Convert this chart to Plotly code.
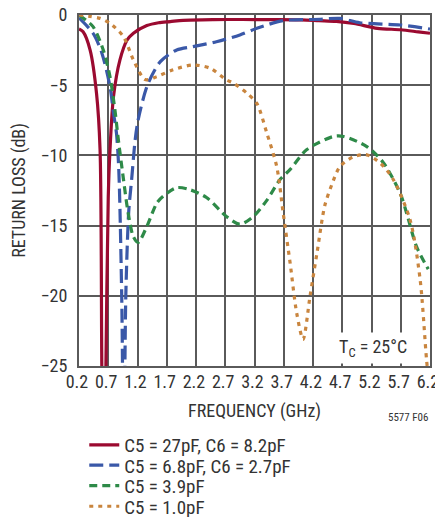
import plotly.graph_objects as go

# Frequency (GHz) / return loss (dB)
red_x = [0.2, 0.27, 0.39, 0.5, 0.56, 0.59, 0.625, 0.66, 0.7, 0.73, 0.79, 0.9, 1.02, 1.13, 1.36, 1.56, 1.76, 1.98,
         2.5, 3.0, 3.5, 4.0, 4.3, 4.6, 4.9, 5.3, 5.7, 6.0, 6.2]
red_y = [-1.0, -1.2, -2.5, -5.6, -9.6, -25, -38, -25, -13, -9.6, -5.8, -3.2, -1.8, -1.3, -0.75, -0.55, -0.47, -0.38,
         -0.33, -0.32, -0.33, -0.35, -0.4, -0.45, -0.6, -0.95, -1.05, -1.2, -1.3]

blue_x = [0.2, 0.44, 0.59, 0.73, 0.79, 0.84, 0.88, 0.93, 0.965, 1.0, 1.05, 1.1, 1.16, 1.21, 1.37, 1.59, 1.87, 2.15,
          2.55, 2.95, 3.24, 3.69, 4.32, 4.66, 5.0, 5.69, 6.2]
blue_y = [-0.2, -1.3, -2.7, -5.1, -7.0, -8.4, -11.0, -20, -32, -20, -14, -11.7, -8.9, -7.5, -5.0, -3.32, -2.49, -2.25,
          -1.9, -1.42, -0.95, -0.4, -0.31, -0.24, -0.55, -0.71, -1.0]

green_x = [0.2, 0.44, 0.615, 0.73, 0.815, 0.87, 0.96, 1.04, 1.13, 1.21, 1.36, 1.53, 1.64, 1.87, 2.1, 2.38, 2.72, 2.95,
           3.18, 3.41, 3.64, 3.81, 4.09, 4.55, 4.72, 5.12, 5.4, 5.69, 5.8, 5.97, 6.17]
green_y = [0.0, -0.83, -2.5, -4.4, -6.8, -8.8, -11.7, -14.1, -15.8, -16.2, -15.06, -13.4, -12.9, -12.3, -12.45, -13.0,
           -14.35, -14.9, -14.35, -13.2, -11.7, -11.0, -9.6, -8.65, -8.65, -9.37, -10.5, -12.7, -14.1, -16.5, -18.1]

orange_x = [0.2, 0.39, 0.56, 0.73, 0.96, 1.13, 1.33, 1.53, 1.81, 2.15, 2.44, 2.72, 2.84, 3.07, 3.24, 3.41, 3.58, 3.69,
            3.81, 3.92, 4.03, 4.15, 4.27, 4.4, 4.52, 4.66, 4.89, 5.12, 5.35, 5.57, 5.86, 6.03, 6.14, 6.2]
orange_y = [0.0, -0.1, -0.24, -0.6, -1.54, -3.2, -4.6, -4.39, -3.9, -3.56, -3.79, -4.62, -4.86, -5.57, -6.3, -8.4,
            -10.8, -14.1, -17.7, -21.2, -23.1, -20.0, -16.9, -13.6, -12.1, -10.8, -10.1, -9.96, -10.55, -11.7, -14.6,
            -18.8, -24.5, -27.0]

series_names = ["C5 = 27pF, C6 = 8.2pF", "C5 = 6.8pF, C6 = 2.7pF", "C5 = 3.9pF", "C5 = 1.0pF"]
x_ticks = [0.2, 0.7, 1.2, 1.7, 2.2, 2.7, 3.2, 3.7, 4.2, 4.7, 5.2, 5.7, 6.2]
y_ticks = [0, -5, -10, -15, -20, -25]

FONT = "Liberation Sans Narrow, Roboto Condensed, Arial Narrow, Liberation Sans, sans-serif"
TXT = "#333333"
GRID = "#5a5a5a"

fig = go.Figure()
styles = [
    ("#9b0a30", "solid"),
    ("#3a58a8", "14px,6px"),
    ("#2e8a48", "8px,5px"),
    ("#c9853e", "4px,5px"),
]
legend_ids = ["legend", "legend2", "legend3", "legend4"]
for (xs, ys), name, (col, dash), lid in zip(
        [(red_x, red_y), (blue_x, blue_y), (green_x, green_y), (orange_x, orange_y)], series_names, styles,
        legend_ids):
    fig.add_trace(go.Scatter(x=xs, y=ys, mode="lines", name=name, legend=lid,
                             line=dict(color=col, width=3.2, dash=dash, shape="spline", smoothing=0.8)))

leg_common = dict(x=0.015, xanchor="left", yanchor="middle", bgcolor="rgba(0,0,0,0)",
                  font=dict(size=19, color=TXT), itemwidth=30)
fig.update_layout(
    width=435, height=509,
    margin=dict(l=71, r=13, t=7, b=151, autoexpand=False),
    paper_bgcolor="white", plot_bgcolor="white",
    font=dict(family=FONT, size=18, color=TXT),
    showlegend=True,
    legend=dict(y=-0.225, **leg_common),
    legend2=dict(y=-0.283, **leg_common),
    legend3=dict(y=-0.341, **leg_common),
    legend4=dict(y=-0.400, **leg_common),
    annotations=[
        dict(text="T<sub>C</sub> = 25°C", x=5.23, y=-23.7, xref="x", yref="y", showarrow=False,
             bgcolor="white", font=dict(size=18, color=TXT), borderpad=3),
        dict(text="5577 F06", x=1.0, y=-0.148, xref="paper", yref="paper", xanchor="right", yanchor="middle",
             showarrow=False, font=dict(size=11, color=TXT)),
    ],
)
fig.update_xaxes(range=[0.2, 6.2], tickvals=x_ticks, ticktext=[f"{v:.1f}" for v in x_ticks],
                 showgrid=True, gridcolor=GRID, gridwidth=1.5, showline=True, linecolor=GRID, linewidth=2,
                 mirror=True, ticks="", zeroline=False, ticklabelstandoff=-2, ticklabeloverflow="allow",
                 ticklabelshift=-2,
                 title=dict(text="FREQUENCY (GHz)", standoff=14, font=dict(size=18, color=TXT)))
fig.update_yaxes(range=[-25, 0], tickvals=y_ticks, showgrid=True, gridcolor=GRID, gridwidth=1.5,
                 showline=True, linecolor=GRID, linewidth=2, mirror=True, ticks="", zeroline=False,
                 ticklabelstandoff=6, ticklabeloverflow="allow",
                 title=dict(text="RETURN LOSS (dB)", standoff=12, font=dict(size=18, color=TXT)))

fig.write_html("out.html")
